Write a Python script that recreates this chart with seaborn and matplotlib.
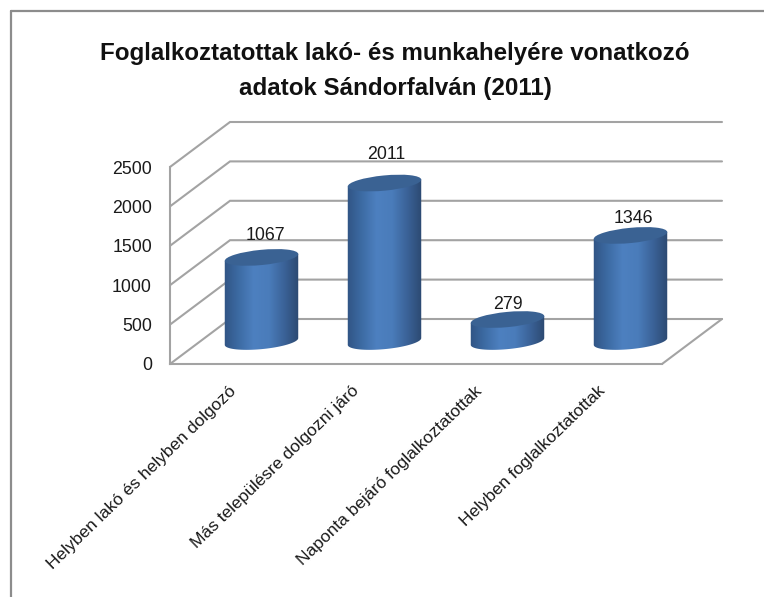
import numpy as np
import pandas as pd
import matplotlib
matplotlib.use("Agg")
import matplotlib.pyplot as plt
import seaborn as sns
from matplotlib.colors import LinearSegmentedColormap
from matplotlib.lines import Line2D
from matplotlib.patches import Ellipse
from matplotlib.path import Path
from matplotlib.transforms import IdentityTransform, ScaledTranslation

categories = [
    "Helyben lakó és helyben dolgozó",
    "Más településre dolgozni járó",
    "Naponta bejáró foglalkoztatottak",
    "Helyben foglalkoztatottak",
]
values = [1067, 2011, 279, 1346]
y_ticks = [0, 500, 1000, 1500, 2000, 2500]
title = "Foglalkoztatottak lakó- és munkahelyére vonatkozó\nadatok Sándorfalván (2011)"

# small nudges of the value labels, in pixels (x, y above bar top)
label_nudge = [(4, 22), (2, 29), (0, 15), (3, 17)]

W, H = 764, 597
GRID = "#a3a3a3"
TEXT = "#1a1a1a"

sns.set_theme(style="white")
plt.rcParams["font.family"] = ["Liberation Sans", "DejaVu Sans"]

df = pd.DataFrame({"category": categories, "value": values})


def px_axes(fig, left, right, bottom, top):
    # axes from pixel edges, y counted from top of the picture
    return fig.add_axes([left / W, 1 - bottom / H, (right - left) / W, (bottom - top) / H])


fig = plt.figure(figsize=(W / 100, H / 100), dpi=100, facecolor="white")

# picture frame, only left and top
fig.add_artist(Line2D([11 / W, 11 / W], [0, 1 - 11 / H], color="#8c8c8c", lw=1.6))
fig.add_artist(Line2D([11 / W, 1], [1 - 11 / H, 1 - 11 / H], color="#8c8c8c", lw=1.6))

fig.text(395 / W, 1 - 71 / H, title, ha="center", va="center", fontsize=17.4,
         fontweight="bold", color="#111111", linespacing=1.65)

# front plane: axis labels and the walls
front = px_axes(fig, 170, 662, 364, 167)
front.set_xlim(-0.5, 3.5)
front.set_ylim(0, 2500)
front.set_yticks(y_ticks)
front.set_xticks(range(len(categories)))
front.set_xticklabels(categories, rotation=44, ha="right", rotation_mode="anchor",
                      fontsize=12.5, color=TEXT)
front.tick_params(axis="y", labelsize=12.8, labelcolor=TEXT, pad=13, length=0)
front.tick_params(axis="x", pad=14, length=0)
for label in front.get_xticklabels():
    label.set_transform(label.get_transform() + ScaledTranslation(-3 / 100, 0, fig.dpi_scale_trans))
sns.despine(ax=front)
for side in ["left", "bottom"]:
    front.spines[side].set_color(GRID)
    front.spines[side].set_linewidth(1.5)

depth_x = 60 / 123
depth_y = 45 * 2500 / 197
for v in y_ticks:
    front.plot([-0.5, -0.5 + depth_x, 3.5 + depth_x], [v, v + depth_y, v + depth_y],
               color=GRID, lw=1.5, clip_on=False, solid_joinstyle="miter")
front.plot([3.5, 3.5 + depth_x], [0, depth_y], color=GRID, lw=1.5, clip_on=False)

# bars stand half way back on the floor
base_px = 341.5
unit_px = 197 / 2500
low = -300
ax = px_axes(fig, 200, 692, base_px - low * unit_px, base_px - 2500 * unit_px)
ax.patch.set_alpha(0)
sns.barplot(data=df, x="category", y="value", ax=ax, width=0.6, color="#4f81bd", saturation=1)
ax.set_xlim(-0.5, 3.5)
ax.set_ylim(low, 2500)
ax.axis("off")

shade = LinearSegmentedColormap.from_list(
    "cyl", ["#2f5180", "#3c6aa2", "#4d80c0", "#4a7cba", "#3a6196", "#2a466c"])
gradient = np.linspace(0, 1, 128).reshape(1, -1)

tilt = np.deg2rad(5.5)
for bar, v, nudge in zip(list(ax.patches), values, label_nudge):
    x0 = bar.get_x()
    x1 = x0 + bar.get_width()
    (lx, by), (rx, ty) = ax.transData.transform([(x0, 0), (x1, v)])
    cx = (lx + rx) / 2
    half = (rx - lx) / 2

    # outline of the side of the cylinder: straight sides and lower half of the base
    t = np.linspace(np.pi, 2 * np.pi, 40)
    ex = half * np.cos(t)
    ey = 7.6 * np.sin(t)
    low_x = cx + ex * np.cos(tilt) - ey * np.sin(tilt)
    low_y = by + ex * np.sin(tilt) + ey * np.cos(tilt)
    up_l = (low_x[0], ty + (low_y[0] - by))
    up_r = (low_x[-1], ty + (low_y[-1] - by))
    pts = [up_l] + list(zip(low_x, low_y)) + [up_r, up_l]
    side = Path(pts, closed=True)

    im = ax.imshow(gradient, cmap=shade, aspect="auto", zorder=3,
                   extent=(x0 - 0.02, x1 + 0.02, low, v + 150))
    im.set_clip_path(side, transform=IdentityTransform())
    bar.set_visible(False)

    ax.add_patch(Ellipse((cx, ty), half * 2, 15.2, angle=5.5, transform=IdentityTransform(),
                         facecolor="#3a6293", edgecolor="none", zorder=4, clip_on=False))
    ax.annotate(str(v), xy=(x0 + bar.get_width() / 2, v), xytext=nudge,
                textcoords="offset pixels", ha="center", va="center",
                fontsize=12.8, color=TEXT, zorder=10, annotation_clip=False)

ax.set_xlim(-0.5, 3.5)
ax.set_ylim(low, 2500)

fig.savefig("out.png", dpi=100)
